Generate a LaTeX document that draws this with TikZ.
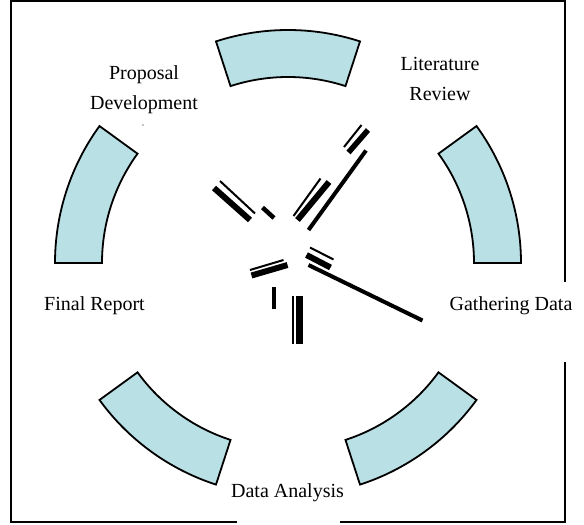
\documentclass[tikz,border=0pt]{standalone}
\usepackage{fontspec}
\setmainfont{Liberation Serif}
\usetikzlibrary{calc}
\definecolor{sectfill}{RGB}{185,224,228}
\tikzset{
  sect/.style={fill=sectfill, draw=black, line width=1.8pt, line join=miter},
  lbl/.style={inner sep=0pt, align=center, font=\fontsize{20}{30}\selectfont},
  thinbar/.style={line width=2pt, line cap=butt},
  thickbar/.style={line width=6pt, line cap=butt},
  midbar/.style={line width=4pt, line cap=butt},
  frame/.style={line width=2pt, line cap=butt}
}
\newcommand\ringsector[2]{%
  \draw[sect] ($(C)+(#1:233)$) arc[start angle=#1, end angle=#2, radius=233pt]
    -- ($(C)+(#2:186)$) arc[start angle=#2, end angle=#1, radius=186pt] -- cycle;}
\begin{document}
\begin{tikzpicture}[x=1pt,y=1pt]
\useasboundingbox (0,0) rectangle (584,-525);
\coordinate (C) at (288,-263);
% frame (interrupted by two labels)
\draw[frame] (237,-522) -- (11,-522) -- (11,-1) -- (565,-1) -- (565,-282);
\draw[frame] (565,-362) -- (565,-522) -- (340,-522);
% ring sectors
\ringsector{0}{36}
\ringsector{72}{108}
\ringsector{144}{180}
\ringsector{216}{252}
\ringsector{288}{324}
% labels
\node[lbl] (prop) at (144,-89.3) {Proposal\\Development};
\node[lbl] (lit) at (440,-79.2) {Literature\\Review};
\node[lbl, anchor=base] (final) at (94.5,-310) {Final Report};
\node[lbl, anchor=base] (gath) at (511,-310) {Gathering Data};
\node[lbl, anchor=base] (ana) at (287.5,-497) {Data Analysis};
\fill (143,-125) circle (0.6);
% central broken bars
\draw[thinbar] (220,-181) -- (255,-213.5);
\draw[thickbar] (214,-188) -- (250,-220);
\draw[line width=4.5pt] (262.5,-207.5) -- (274,-218);
\draw[thinbar] (293.5,-216) -- (320.5,-178.5);
\draw[thickbar] (297.5,-220) -- (329,-182);
\draw[midbar] (308.5,-230) -- (366,-150.5);
\draw[thinbar] (344,-147) -- (361.5,-125);
\draw[thickbar, line width=5.5pt] (348.5,-152.5) -- (368,-130);
\draw[thinbar] (250,-270) -- (283.5,-260);
\draw[thickbar] (251.5,-275.5) -- (287.5,-265);
\draw[thinbar] (310,-247.5) -- (333.5,-259.5);
\draw[thickbar] (306.5,-255) -- (330.5,-267.5);
\draw[midbar] (308.5,-265) -- (422.5,-320.5);
\draw[line width=4.5pt] (274,-287) -- (274,-309);
\draw[thinbar] (292.5,-296) -- (292.5,-344);
\draw[thickbar, line width=7pt] (299.5,-296) -- (299.5,-344);
\end{tikzpicture}
\end{document}
